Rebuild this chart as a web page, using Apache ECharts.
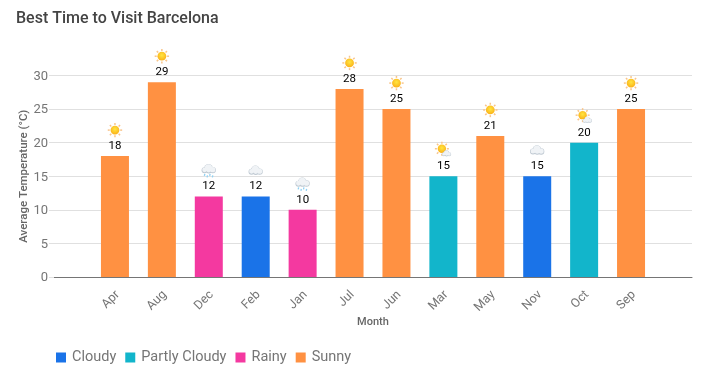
<!DOCTYPE html>
<html>
<head>
<meta charset="utf-8">
<style>
  html, body { margin: 0; padding: 0; background: #fff; }
  #chart { width: 708px; height: 380px; }
</style>
<script src="https://cdn.jsdelivr.net/npm/echarts@6/dist/echarts.min.js"></script>
</head>
<body>
<div id="chart"></div>
<script>
var months = ['Apr', 'Aug', 'Dec', 'Feb', 'Jan', 'Jul', 'Jun', 'Mar', 'May', 'Nov', 'Oct', 'Sep'];
var temps = [18, 29, 12, 12, 10, 28, 25, 15, 21, 15, 20, 25];
var sky = ['Sunny', 'Sunny', 'Rainy', 'Cloudy', 'Rainy', 'Sunny', 'Sunny', 'Partly Cloudy', 'Sunny', 'Cloudy', 'Partly Cloudy', 'Sunny'];
var skyNames = ['Cloudy', 'Partly Cloudy', 'Rainy', 'Sunny'];
var skyColors = ['#1a73e8', '#12b5cb', '#f439a0', '#ff9142'];
var yTicks = [0, 5, 10, 15, 20, 25, 30];

var chart = echarts.init(document.getElementById('chart'));

function sunShapes(cx, cy, r) {
  var out = [];
  for (var i = 0; i < 8; i++) {
    var a = i * Math.PI / 4;
    out.push({
      type: 'line',
      shape: {
        x1: cx + Math.cos(a) * (r + 0.8), y1: cy + Math.sin(a) * (r + 0.8),
        x2: cx + Math.cos(a) * (r + 2.8), y2: cy + Math.sin(a) * (r + 2.8)
      },
      style: { stroke: '#f9c58a', lineWidth: 1.5 }
    });
  }
  out.push({
    type: 'circle',
    shape: { cx: cx, cy: cy, r: r },
    style: {
      fill: new echarts.graphic.RadialGradient(0.5, 0.4, 0.6, [
        { offset: 0, color: '#ffe640' },
        { offset: 1, color: '#fbb017' }
      ])
    }
  });
  return out;
}

// k scales the cloud, the partly cloudy icon uses a smaller one
function cloudShapes(cx, cy, k) {
  var puffs = [[-4.2, 1.3, 2.4], [-0.3, -0.7, 3.6], [3.9, 1.2, 2.6], [0, 1.6, 2.3]];
  var out = [];
  // grey rim first, white body over it
  puffs.forEach(function (p) {
    out.push({ type: 'circle', shape: { cx: cx + p[0] * k, cy: cy + p[1] * k, r: (p[2] + 0.6) * k }, style: { fill: '#bfc9d2' } });
  });
  puffs.forEach(function (p) {
    out.push({ type: 'circle', shape: { cx: cx + p[0] * k, cy: cy + (p[1] - 0.4) * k, r: p[2] * k }, style: { fill: '#f0f3f6' } });
  });
  return out;
}

function rainShapes(cx, cy) {
  var out = [];
  [[-4, 5], [-1.3, 6.5], [1.3, 5], [4, 6.5]].forEach(function (d) {
    out.push({
      type: 'line',
      shape: { x1: cx + d[0], y1: cy + d[1], x2: cx + d[0] - 0.4, y2: cy + d[1] + 2 },
      style: { stroke: '#8fd0f2', lineWidth: 1.3 }
    });
  });
  return out;
}

function renderIcon(params, api) {
  var p = api.coord([api.value(0), api.value(1)]);
  var cx = p[0], cy = p[1] - 26;
  var kind = sky[params.dataIndex];
  var kids;
  if (kind === 'Sunny') {
    kids = sunShapes(cx, cy, 4.4);
  } else if (kind === 'Partly Cloudy') {
    kids = sunShapes(cx - 1.5, cy - 1.5, 4.2).concat(cloudShapes(cx + 3.2, cy + 3.2, 0.65));
  } else if (kind === 'Rainy') {
    kids = rainShapes(cx, cy - 1.5).concat(cloudShapes(cx, cy - 1.5, 1));
  } else {
    kids = cloudShapes(cx, cy, 1);
  }
  return { type: 'group', children: kids };
}

var series = skyNames.map(function (name, k) {
  return {
    name: name,
    type: 'bar',
    xAxisIndex: 1,
    yAxisIndex: 1,
    stack: 'month',
    barWidth: 28,
    itemStyle: { color: skyColors[k] },
    label: {
      show: true,
      position: 'top',
      distance: 4,
      color: '#000',
      fontFamily: 'Roboto',
      fontSize: 11.5
    },
    data: temps.map(function (t, i) { return sky[i] === name ? t : null; })
  };
});

series.push({
  type: 'custom',
  xAxisIndex: 1,
  yAxisIndex: 1,
  silent: true,
  renderItem: renderIcon,
  encode: { x: 0, y: 1 },
  data: temps.map(function (t, i) { return [i, t]; }),
  z: 5
});

var option = {
  animation: false,
  backgroundColor: '#fff',
  textStyle: { fontFamily: 'Roboto' },
  color: skyColors,
  title: {
    text: 'Best Time to Visit Barcelona',
    left: 16,
    top: 11,
    padding: 0,
    textStyle: { fontFamily: 'Roboto', fontSize: 16, fontWeight: 500, color: '#444' }
  },
  legend: {
    left: 51,
    top: 345,
    data: skyNames,
    icon: 'rect',
    itemWidth: 10,
    itemHeight: 10,
    itemGap: 9,
    textStyle: { fontFamily: 'Roboto', fontSize: 14.5, color: '#757575', padding: [0, 0, 0, 1] }
  },
  grid: [
    { left: 54, right: 16, top: 75.5, height: 201.5 },
    { left: 91.5, width: 563, top: 75.5, height: 201.5 }
  ],
  xAxis: [
    {
      type: 'category',
      gridIndex: 0,
      data: [''],
      axisLine: { lineStyle: { color: '#757575', width: 1 } },
      axisTick: { show: false },
      axisLabel: { show: false },
      name: 'Month',
      nameLocation: 'middle',
      nameMoveOverlap: false,
      nameGap: 40,
      nameTextStyle: { fontFamily: 'Roboto', fontSize: 11, fontWeight: 500, color: '#666' }
    },
    {
      type: 'category',
      gridIndex: 1,
      data: months,
      axisLine: { show: false },
      axisTick: { show: false },
      axisLabel: {
        rotate: 45,
        margin: 13,
        interval: 0,
        formatter: '{m|{value}}',
        rich: { m: { padding: [8, 0, 0, 0], color: '#757575', fontFamily: 'Roboto', fontSize: 12.5 } }
      }
    }
  ],
  yAxis: [
    {
      type: 'value',
      gridIndex: 0,
      min: yTicks[0],
      max: yTicks[yTicks.length - 1],
      interval: yTicks[1] - yTicks[0],
      axisLine: { show: false },
      axisTick: { show: true, length: 5, lineStyle: { color: '#e0e0e0' } },
      axisLabel: {
        margin: 6,
        formatter: '{t|{value}}',
        rich: { t: { padding: [2, 0, 0, 0], color: '#757575', fontFamily: 'Roboto', fontSize: 13 } }
      },
      splitLine: { lineStyle: { color: '#e0e0e0', width: 1 } },
      name: 'Average Temperature (°C)',
      nameLocation: 'middle',
      nameMoveOverlap: false,
      nameGap: 24,
      nameTextStyle: { fontFamily: 'Roboto', fontSize: 11.5, fontWeight: 500, color: '#666' }
    },
    {
      type: 'value',
      gridIndex: 1,
      show: false,
      min: yTicks[0],
      max: yTicks[yTicks.length - 1],
      interval: yTicks[1] - yTicks[0]
    }
  ],
  series: series
};

chart.setOption(option);
window.addEventListener('resize', function () { chart.resize(); });
</script>
</body>
</html>
